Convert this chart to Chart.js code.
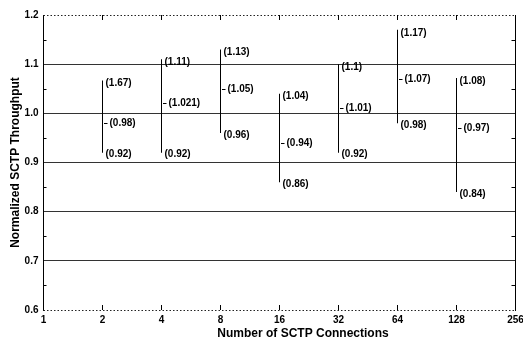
<!DOCTYPE html>
<html>
<head>
<meta charset="utf-8">
<script src="https://cdn.jsdelivr.net/npm/chart.js@4"></script>
<style>
  html, body { margin: 0; padding: 0; background: #fff; }
  #wrap { width: 523px; height: 346px; }
</style>
</head>
<body>
<div id="wrap"><canvas id="chart"></canvas></div>
<script>
// x categories (log2 spaced), one slot per label
const connections = ["1", "2", "4", "8", "16", "32", "64", "128", "256"];

// range of normalized throughput at each connection count
const maxVals  = [null, 1.067, 1.11, 1.13, 1.04, 1.10, 1.17, 1.072, null];
const meanVals = [null, 0.98, 1.021, 1.05, 0.94, 1.01, 1.07, 0.97, null];
const minVals  = [null, 0.92, 0.92, 0.96, 0.86, 0.92, 0.98, 0.84, null];

// printed annotations (as in the original figure)
const maxLabels  = [null, "(1.67)", "(1.11)", "(1.13)", "(1.04)", "(1.1)", "(1.17)", "(1.08)", null];
const meanLabels = [null, "(0.98)", "(1.021)", "(1.05)", "(0.94)", "(1.01)", "(1.07)", "(0.97)", null];
const minLabels  = [null, "(0.92)", "(0.92)", "(0.96)", "(0.86)", "(0.92)", "(0.98)", "(0.84)", null];

const yTicks = [0.6, 0.7, 0.8, 0.9, 1.0, 1.1, 1.2];

const FONT = "'Liberation Sans', Arial, sans-serif";

const decor = {
  id: "decor",
  afterDraw(chart) {
    const { ctx, chartArea: a, scales } = chart;
    const xs = scales.x, ys = scales.y;
    ctx.save();

    // top and bottom frame: dotted
    ctx.strokeStyle = "#222";
    ctx.lineWidth = 1;
    ctx.setLineDash([1.5, 2]);
    ctx.beginPath();
    ctx.moveTo(a.left, a.top + 0.5); ctx.lineTo(a.right, a.top + 0.5);
    ctx.moveTo(a.left, a.bottom + 0.5); ctx.lineTo(a.right, a.bottom + 0.5);
    ctx.stroke();
    ctx.setLineDash([]);

    // right frame
    ctx.strokeStyle = "#000";
    ctx.beginPath();
    ctx.moveTo(a.right, a.top); ctx.lineTo(a.right, a.bottom + 1);
    ctx.stroke();

    // x major ticks, pointing in
    ctx.beginPath();
    for (let i = 1; i < connections.length - 1; i++) {
      const x = xs.getPixelForValue(i);
      ctx.moveTo(x, a.bottom); ctx.lineTo(x, a.bottom - 5);
      ctx.moveTo(x, a.top); ctx.lineTo(x, a.top + 5);
    }
    // y minor ticks on left and right
    for (let i = 0; i < yTicks.length - 1; i++) {
      const y = Math.round(ys.getPixelForValue((yTicks[i] + yTicks[i + 1]) / 2)) + 0.5;
      ctx.moveTo(a.left, y); ctx.lineTo(a.left + 3, y);
      ctx.moveTo(a.right, y); ctx.lineTo(a.right - 4, y);
    }
    ctx.stroke();

    // mean dash and the three annotations
    ctx.font = "bold 10px " + FONT;
    ctx.fillStyle = "#000";
    ctx.textAlign = "left";
    ctx.textBaseline = "middle";
    for (let i = 0; i < connections.length; i++) {
      if (meanVals[i] == null) continue;
      const x = xs.getPixelForValue(i);
      const yMax = ys.getPixelForValue(maxVals[i]);
      const yMean = Math.round(ys.getPixelForValue(meanVals[i])) + 0.5;
      const yMin = ys.getPixelForValue(minVals[i]);
      ctx.beginPath();
      ctx.moveTo(x + 1.5, yMean); ctx.lineTo(x + 5, yMean);
      ctx.stroke();
      ctx.fillText(maxLabels[i], x + 3, yMax + 3);
      ctx.fillText(meanLabels[i], x + 7, yMean);
      ctx.fillText(minLabels[i], x + 3, yMin + 2);
    }

    // axis titles
    ctx.font = "bold 12px " + FONT;
    ctx.textAlign = "center";
    ctx.fillText("Number of SCTP Connections", 303, 334);
    ctx.translate(16, (a.top + a.bottom) / 2);
    ctx.rotate(-Math.PI / 2);
    ctx.fillText("Normalized SCTP Throughput", 0, 0);
    ctx.restore();
  }
};

new Chart(document.getElementById("chart"), {
  type: "bar",
  data: {
    labels: connections,
    datasets: [{
      label: "range",
      data: minVals.map((v, i) => v == null ? null : [v, maxVals[i]]),
      backgroundColor: "#000",
      borderWidth: 0,
      inflateAmount: 0,
      barThickness: 1
    }]
  },
  options: {
    responsive: true,
    maintainAspectRatio: false,
    animation: false,
    // half-pixel edges so 1px bars land on whole pixels (step = 59px)
    layout: { padding: { left: 0, top: 15, right: 7.5, bottom: 0 } },
    plugins: { legend: { display: false }, tooltip: { enabled: false } },
    scales: {
      x: {
        offset: false,
        grid: { display: false, drawTicks: false },
        border: { display: false },
        ticks: { color: "#000", padding: 4, maxRotation: 0, autoSkip: false, font: { family: FONT, size: 10, weight: "bold" } },
        afterFit(scale) {
          scale.height = 36;
          // let "256" run off the edge like the original
          scale.paddingLeft = 0;
          scale.paddingRight = 0;
        }
      },
      y: {
        min: 0.6,
        max: 1.2,
        afterBuildTicks(scale) { scale.ticks = yTicks.map(v => ({ value: v })); },
        grid: {
          drawTicks: false,
          color: c => (c.tick && (c.tick.value <= 0.6 || c.tick.value >= 1.2)) ? "rgba(0,0,0,0)" : "#333",
          lineWidth: 1
        },
        border: { display: true, color: "#000", width: 1 },
        ticks: {
          color: "#000",
          padding: 5,
          font: { family: FONT, size: 10, weight: "bold" },
          callback: v => Number(v).toFixed(1)
        },
        afterFit(scale) { scale.width = 43.5; }
      }
    }
  },
  plugins: [decor]
});
</script>
</body>
</html>
